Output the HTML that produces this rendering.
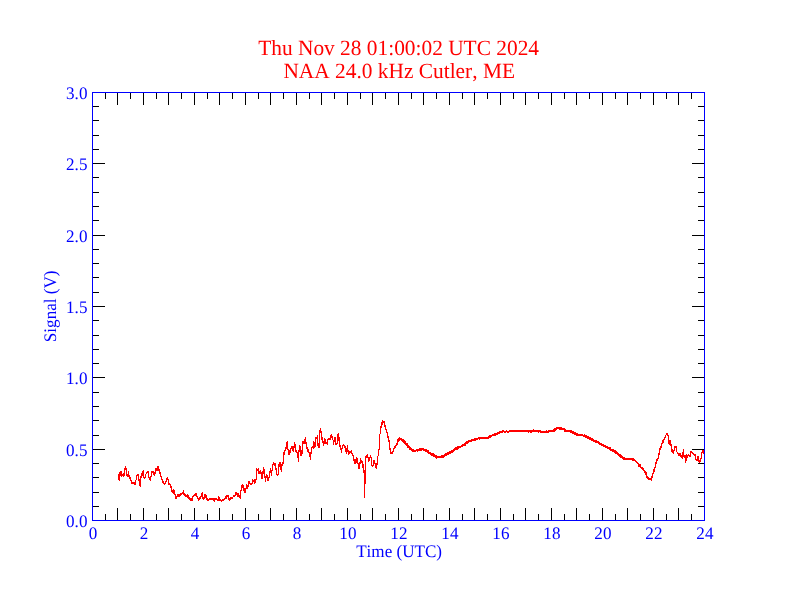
<!DOCTYPE html>
<html lang="en"><head><meta charset="utf-8"><title>NAA 24.0 kHz Cutler, ME</title>
<style>html,body{margin:0;padding:0;background:#fff;overflow:hidden}svg{display:block}text{font-family:"Liberation Serif","Times New Roman",serif;font-kerning:none;text-rendering:geometricPrecision}</style></head><body>
<svg width="792" height="612" viewBox="0 0 792 612">
<rect width="792" height="612" fill="#fff"/>
<g fill="#000" shape-rendering="crispEdges">
<rect x="105" y="514" width="1" height="6"/><rect x="105" y="93" width="1" height="6"/>
<rect x="117" y="508" width="1" height="12"/><rect x="117" y="93" width="1" height="12"/>
<rect x="130" y="514" width="1" height="6"/><rect x="130" y="93" width="1" height="6"/>
<rect x="143" y="508" width="1" height="12"/><rect x="143" y="93" width="1" height="12"/>
<rect x="156" y="514" width="1" height="6"/><rect x="156" y="93" width="1" height="6"/>
<rect x="168" y="508" width="1" height="12"/><rect x="168" y="93" width="1" height="12"/>
<rect x="181" y="514" width="1" height="6"/><rect x="181" y="93" width="1" height="6"/>
<rect x="194" y="508" width="1" height="12"/><rect x="194" y="93" width="1" height="12"/>
<rect x="207" y="514" width="1" height="6"/><rect x="207" y="93" width="1" height="6"/>
<rect x="219" y="508" width="1" height="12"/><rect x="219" y="93" width="1" height="12"/>
<rect x="232" y="514" width="1" height="6"/><rect x="232" y="93" width="1" height="6"/>
<rect x="245" y="508" width="1" height="12"/><rect x="245" y="93" width="1" height="12"/>
<rect x="258" y="514" width="1" height="6"/><rect x="258" y="93" width="1" height="6"/>
<rect x="270" y="508" width="1" height="12"/><rect x="270" y="93" width="1" height="12"/>
<rect x="283" y="514" width="1" height="6"/><rect x="283" y="93" width="1" height="6"/>
<rect x="296" y="508" width="1" height="12"/><rect x="296" y="93" width="1" height="12"/>
<rect x="309" y="514" width="1" height="6"/><rect x="309" y="93" width="1" height="6"/>
<rect x="321" y="508" width="1" height="12"/><rect x="321" y="93" width="1" height="12"/>
<rect x="334" y="514" width="1" height="6"/><rect x="334" y="93" width="1" height="6"/>
<rect x="347" y="508" width="1" height="12"/><rect x="347" y="93" width="1" height="12"/>
<rect x="360" y="514" width="1" height="6"/><rect x="360" y="93" width="1" height="6"/>
<rect x="372" y="508" width="1" height="12"/><rect x="372" y="93" width="1" height="12"/>
<rect x="385" y="514" width="1" height="6"/><rect x="385" y="93" width="1" height="6"/>
<rect x="398" y="508" width="1" height="12"/><rect x="398" y="93" width="1" height="12"/>
<rect x="411" y="514" width="1" height="6"/><rect x="411" y="93" width="1" height="6"/>
<rect x="423" y="508" width="1" height="12"/><rect x="423" y="93" width="1" height="12"/>
<rect x="436" y="514" width="1" height="6"/><rect x="436" y="93" width="1" height="6"/>
<rect x="449" y="508" width="1" height="12"/><rect x="449" y="93" width="1" height="12"/>
<rect x="462" y="514" width="1" height="6"/><rect x="462" y="93" width="1" height="6"/>
<rect x="474" y="508" width="1" height="12"/><rect x="474" y="93" width="1" height="12"/>
<rect x="487" y="514" width="1" height="6"/><rect x="487" y="93" width="1" height="6"/>
<rect x="500" y="508" width="1" height="12"/><rect x="500" y="93" width="1" height="12"/>
<rect x="513" y="514" width="1" height="6"/><rect x="513" y="93" width="1" height="6"/>
<rect x="525" y="508" width="1" height="12"/><rect x="525" y="93" width="1" height="12"/>
<rect x="538" y="514" width="1" height="6"/><rect x="538" y="93" width="1" height="6"/>
<rect x="551" y="508" width="1" height="12"/><rect x="551" y="93" width="1" height="12"/>
<rect x="564" y="514" width="1" height="6"/><rect x="564" y="93" width="1" height="6"/>
<rect x="576" y="508" width="1" height="12"/><rect x="576" y="93" width="1" height="12"/>
<rect x="589" y="514" width="1" height="6"/><rect x="589" y="93" width="1" height="6"/>
<rect x="602" y="508" width="1" height="12"/><rect x="602" y="93" width="1" height="12"/>
<rect x="615" y="514" width="1" height="6"/><rect x="615" y="93" width="1" height="6"/>
<rect x="627" y="508" width="1" height="12"/><rect x="627" y="93" width="1" height="12"/>
<rect x="640" y="514" width="1" height="6"/><rect x="640" y="93" width="1" height="6"/>
<rect x="653" y="508" width="1" height="12"/><rect x="653" y="93" width="1" height="12"/>
<rect x="666" y="514" width="1" height="6"/><rect x="666" y="93" width="1" height="6"/>
<rect x="678" y="508" width="1" height="12"/><rect x="678" y="93" width="1" height="12"/>
<rect x="691" y="514" width="1" height="6"/><rect x="691" y="93" width="1" height="6"/>
<rect x="93" y="506" width="6" height="1"/><rect x="698" y="506" width="6" height="1"/>
<rect x="93" y="492" width="6" height="1"/><rect x="698" y="492" width="6" height="1"/>
<rect x="93" y="477" width="6" height="1"/><rect x="698" y="477" width="6" height="1"/>
<rect x="93" y="463" width="6" height="1"/><rect x="698" y="463" width="6" height="1"/>
<rect x="93" y="449" width="12" height="1"/><rect x="692" y="449" width="12" height="1"/>
<rect x="93" y="435" width="6" height="1"/><rect x="698" y="435" width="6" height="1"/>
<rect x="93" y="420" width="6" height="1"/><rect x="698" y="420" width="6" height="1"/>
<rect x="93" y="406" width="6" height="1"/><rect x="698" y="406" width="6" height="1"/>
<rect x="93" y="392" width="6" height="1"/><rect x="698" y="392" width="6" height="1"/>
<rect x="93" y="377" width="12" height="1"/><rect x="692" y="377" width="12" height="1"/>
<rect x="93" y="363" width="6" height="1"/><rect x="698" y="363" width="6" height="1"/>
<rect x="93" y="349" width="6" height="1"/><rect x="698" y="349" width="6" height="1"/>
<rect x="93" y="335" width="6" height="1"/><rect x="698" y="335" width="6" height="1"/>
<rect x="93" y="320" width="6" height="1"/><rect x="698" y="320" width="6" height="1"/>
<rect x="93" y="306" width="12" height="1"/><rect x="692" y="306" width="12" height="1"/>
<rect x="93" y="292" width="6" height="1"/><rect x="698" y="292" width="6" height="1"/>
<rect x="93" y="277" width="6" height="1"/><rect x="698" y="277" width="6" height="1"/>
<rect x="93" y="263" width="6" height="1"/><rect x="698" y="263" width="6" height="1"/>
<rect x="93" y="249" width="6" height="1"/><rect x="698" y="249" width="6" height="1"/>
<rect x="93" y="235" width="12" height="1"/><rect x="692" y="235" width="12" height="1"/>
<rect x="93" y="220" width="6" height="1"/><rect x="698" y="220" width="6" height="1"/>
<rect x="93" y="206" width="6" height="1"/><rect x="698" y="206" width="6" height="1"/>
<rect x="93" y="192" width="6" height="1"/><rect x="698" y="192" width="6" height="1"/>
<rect x="93" y="177" width="6" height="1"/><rect x="698" y="177" width="6" height="1"/>
<rect x="93" y="163" width="12" height="1"/><rect x="692" y="163" width="12" height="1"/>
<rect x="93" y="149" width="6" height="1"/><rect x="698" y="149" width="6" height="1"/>
<rect x="93" y="135" width="6" height="1"/><rect x="698" y="135" width="6" height="1"/>
<rect x="93" y="120" width="6" height="1"/><rect x="698" y="120" width="6" height="1"/>
<rect x="93" y="106" width="6" height="1"/><rect x="698" y="106" width="6" height="1"/>
</g>
<path d="M118.5 474V480M119.5 472V481M120.5 471V476M121.5 471V477M122.5 474V476M123.5 473V477M124.5 468V476M125.5 466V470M126.5 468V476M127.5 474V477M128.5 471V477M129.5 475V479M130.5 477V481M131.5 480V484M132.5 482V484M133.5 482V484M134.5 482V485M135.5 480V485M136.5 475V480M137.5 474V476M138.5 474V481M139.5 479V486M140.5 476V487M141.5 473V478M142.5 471V476M143.5 470V478M144.5 477V479M145.5 474V478M146.5 472V474M147.5 471V473M148.5 471V478M149.5 477V480M150.5 476V481M151.5 471V477M152.5 471V473M153.5 471V475M154.5 472V476M155.5 468V474M156.5 468V471M157.5 466V471M158.5 466V471M159.5 469V474M160.5 472V477M161.5 476V480M162.5 479V483M163.5 481V484M164.5 483V485M165.5 481V484M166.5 478V482M167.5 477V480M168.5 479V485M169.5 483V485M170.5 484V488M171.5 486V492M172.5 490V493M173.5 489V494M174.5 490V495M175.5 494V499M176.5 496V499M177.5 494V497M178.5 494V497M179.5 494V497M180.5 493V496M181.5 493V495M182.5 492V494M183.5 490V495M184.5 493V496M185.5 494V497M186.5 495V497M187.5 494V498M188.5 495V499M189.5 497V500M190.5 498V501M191.5 498V501M192.5 496V501M193.5 495V497M194.5 494V496M195.5 493V496M196.5 493V497M197.5 496V499M198.5 498V501M199.5 497V500M200.5 496V499M201.5 493V497M202.5 492V499M203.5 497V500M204.5 494V499M205.5 494V498M206.5 495V500M207.5 498V501M208.5 499V501M209.5 498V500M210.5 498V500M211.5 498V500M212.5 498V500M213.5 498V501M214.5 498V502M215.5 498V500M216.5 498V500M217.5 499V501M218.5 496V501M219.5 497V501M220.5 499V501M221.5 500V502M222.5 499V501M223.5 499V501M224.5 498V500M225.5 496V499M226.5 495V499M227.5 495V497M228.5 495V500M229.5 498V501M230.5 497V500M231.5 497V499M232.5 497V499M233.5 495V497M234.5 495V497M235.5 492V496M236.5 492V495M237.5 493V497M238.5 493V497M239.5 495V498M240.5 490V499M241.5 485V491M242.5 484V488M243.5 485V491M244.5 488V493M245.5 488V493M246.5 484V489M247.5 485V489M248.5 481V487M249.5 481V484M250.5 483V485M251.5 483V485M252.5 479V484M253.5 480V482M254.5 479V484M255.5 479V483M256.5 468V480M257.5 469V471M258.5 468V474M259.5 471V474M260.5 470V474M261.5 472V479M262.5 471V479M263.5 467V474M264.5 469V478M265.5 476V482M266.5 474V478M267.5 475V481M268.5 477V481M269.5 471V478M270.5 468V473M271.5 470V476M272.5 464V471M273.5 462V465M274.5 463V466M275.5 463V470M276.5 468V475M277.5 474V476M278.5 464V475M279.5 462V467M280.5 462V470M281.5 464V472M282.5 462V466M283.5 452V464M284.5 450V455M285.5 447V451M286.5 442V449M287.5 441V450M288.5 449V455M289.5 450V455M290.5 448V453M291.5 446V449M292.5 446V451M293.5 446V452M294.5 442V448M295.5 444V452M296.5 450V453M297.5 452V458M298.5 450V462M299.5 445V452M300.5 446V456M301.5 450V456M302.5 441V454M303.5 441V444M304.5 439V444M305.5 437V444M306.5 442V449M307.5 447V452M308.5 449V453M309.5 452V457M310.5 452V460M311.5 447V454M312.5 446V448M313.5 441V449M314.5 442V448M315.5 437V447M316.5 437V439M317.5 435V446M318.5 443V448M319.5 430V448M320.5 428V433M321.5 431V440M322.5 437V443M323.5 441V446M324.5 438V444M325.5 439V444M326.5 442V444M327.5 439V445M328.5 438V440M329.5 438V440M330.5 435V440M331.5 434V438M332.5 436V440M333.5 440V445M334.5 437V442M335.5 437V445M336.5 443V445M337.5 434V444M338.5 433V441M339.5 437V447M340.5 445V450M341.5 448V453M342.5 445V449M343.5 444V446M344.5 445V448M345.5 446V452M346.5 448V454M347.5 445V452M348.5 450V455M349.5 451V454M350.5 451V453M351.5 450V454M352.5 453V456M353.5 455V461M354.5 459V464M355.5 459V464M356.5 457V463M357.5 458V464M358.5 463V469M359.5 462V469M360.5 458V464M361.5 460V463M362.5 461V468M363.5 464V473M364.5 470V498M365.5 456V484M366.5 455V458M367.5 454V458M368.5 457V462M369.5 457V461M370.5 455V458M371.5 457V466M372.5 465V467M373.5 460V466M374.5 460V464M375.5 463V468M376.5 463V469M377.5 456V465M378.5 449V456M379.5 434V450M380.5 426V434M381.5 422V428M382.5 420V425M383.5 421V423M384.5 421V427M385.5 425V430M386.5 429V433M387.5 432V438M388.5 436V442M389.5 440V450M390.5 448V454M391.5 452V454M392.5 451V454M393.5 448V452M394.5 446V449M395.5 445V448M396.5 443V446M397.5 439V445M398.5 438V442M399.5 437V441M400.5 438V440M401.5 438V441M402.5 439V442M403.5 439V443M404.5 440V444M405.5 441V445M406.5 443V446M407.5 443V448M408.5 445V448M409.5 446V450M410.5 447V450M411.5 448V451M412.5 449V452M413.5 449V452M414.5 450V452M415.5 450V452M416.5 449V451M417.5 449V452M418.5 449V451M419.5 448V451M420.5 448V451M421.5 448V451M422.5 448V450M423.5 448V451M424.5 449V451M425.5 449V452M426.5 449V452M427.5 450V453M428.5 450V454M429.5 452V454M430.5 452V455M431.5 453V456M432.5 453V456M433.5 453V457M434.5 454V457M435.5 455V458M436.5 455V459M437.5 456V458M438.5 456V458M439.5 456V458M440.5 456V458M441.5 455V458M442.5 455V458M443.5 455V458M444.5 454V457M445.5 453V456M446.5 453V456M447.5 452V455M448.5 452V455M449.5 451V454M450.5 451V454M451.5 450V453M452.5 450V453M453.5 449V452M454.5 448V451M455.5 447V450M456.5 447V450M457.5 446V450M458.5 446V449M459.5 446V448M460.5 446V448M461.5 445V447M462.5 444V447M463.5 444V446M464.5 443V446M465.5 442V446M466.5 441V444M467.5 441V444M468.5 440V443M469.5 440V442M470.5 440V442M471.5 439V442M472.5 439V441M473.5 439V441M474.5 438V441M475.5 438V441M476.5 438V440M477.5 438V440M478.5 437V439M479.5 437V440M480.5 437V439M481.5 437V439M482.5 437V439M483.5 437V439M484.5 437V439M485.5 437V439M486.5 437V439M487.5 437V439M488.5 436V439M489.5 435V438M490.5 435V438M491.5 435V437M492.5 434V436M493.5 434V436M494.5 433V436M495.5 433V436M496.5 433V435M497.5 432V435M498.5 432V434M499.5 431V434M500.5 431V433M501.5 431V433M502.5 430V433M503.5 430V432M504.5 431V433M505.5 431V433M506.5 430V432M507.5 431V433M508.5 431V433M509.5 430V432M510.5 430V432M511.5 430V432M512.5 430V432M513.5 430V432M514.5 430V432M515.5 430V432M516.5 430V432M517.5 430V432M518.5 430V432M519.5 430V432M520.5 430V432M521.5 430V432M522.5 430V432M523.5 430V432M524.5 430V432M525.5 430V432M526.5 430V432M527.5 430V432M528.5 430V433M529.5 430V432M530.5 430V433M531.5 430V433M532.5 430V432M533.5 429V432M534.5 430V432M535.5 430V432M536.5 430V432M537.5 430V432M538.5 430V433M539.5 430V432M540.5 430V433M541.5 431V433M542.5 431V433M543.5 431V433M544.5 431V433M545.5 431V433M546.5 430V433M547.5 431V433M548.5 430V433M549.5 430V432M550.5 430V432M551.5 430V432M552.5 430V432M553.5 429V432M554.5 428V432M555.5 428V431M556.5 427V430M557.5 427V429M558.5 427V429M559.5 427V430M560.5 427V430M561.5 427V430M562.5 428V430M563.5 428V430M564.5 428V432M565.5 429V432M566.5 430V432M567.5 430V432M568.5 430V432M569.5 430V432M570.5 430V433M571.5 430V433M572.5 431V434M573.5 431V434M574.5 432V435M575.5 432V435M576.5 433V436M577.5 433V436M578.5 434V436M579.5 434V436M580.5 434V436M581.5 434V436M582.5 434V436M583.5 435V437M584.5 434V437M585.5 435V438M586.5 435V438M587.5 436V439M588.5 436V439M589.5 437V440M590.5 437V440M591.5 438V441M592.5 438V441M593.5 439V442M594.5 440V442M595.5 440V443M596.5 440V443M597.5 441V443M598.5 441V444M599.5 442V445M600.5 443V445M601.5 443V446M602.5 444V446M603.5 444V447M604.5 445V447M605.5 445V448M606.5 446V448M607.5 446V449M608.5 447V449M609.5 447V450M610.5 447V451M611.5 449V451M612.5 449V452M613.5 449V452M614.5 450V453M615.5 450V454M616.5 451V454M617.5 452V455M618.5 453V456M619.5 454V457M620.5 454V458M621.5 455V458M622.5 456V459M623.5 457V460M624.5 457V460M625.5 458V460M626.5 458V460M627.5 458V460M628.5 458V460M629.5 458V460M630.5 458V460M631.5 458V460M632.5 458V461M633.5 458V461M634.5 459V461M635.5 460V462M636.5 461V463M637.5 462V464M638.5 463V467M639.5 464V467M640.5 464V468M641.5 467V469M642.5 467V470M643.5 468V471M644.5 470V473M645.5 471V475M646.5 472V478M647.5 476V479M648.5 477V480M649.5 478V480M650.5 478V480M651.5 476V481M652.5 473V478M653.5 469V474M654.5 467V472M655.5 462V468M656.5 459V464M657.5 458V461M658.5 453V459M659.5 448V455M660.5 446V450M661.5 443V448M662.5 440V444M663.5 439V443M664.5 437V440M665.5 435V438M666.5 433V435M667.5 433V436M668.5 435V444M669.5 440V445M670.5 440V446M671.5 444V452M672.5 449V453M673.5 450V454M674.5 446V451M675.5 446V448M676.5 446V452M677.5 452V454M678.5 453V456M679.5 453V456M680.5 453V457M681.5 455V458M682.5 452V459M683.5 449V457M684.5 455V458M685.5 455V463M686.5 454V461M687.5 455V458M688.5 454V456M689.5 455V457M690.5 451V457M691.5 451V453M692.5 452V454M693.5 453V455M694.5 454V456M695.5 454V460M696.5 459V461M697.5 456V461M698.5 456V462M699.5 460V463M700.5 458V462M701.5 452V459M702.5 450V453M703.5 450V454" fill="none" stroke="#f00" stroke-width="1" shape-rendering="crispEdges"/>
<g fill="#00f" shape-rendering="crispEdges">
<rect x="92" y="92" width="613" height="1"/><rect x="92" y="520" width="613" height="1"/>
<rect x="92" y="92" width="1" height="429"/><rect x="704" y="92" width="1" height="429"/>
</g>
<g fill="#00f" font-size="17.1px">
<text transform="translate(92.90,538.70) scale(1,1.03)" text-anchor="middle">0</text>
<text transform="translate(143.90,538.70) scale(1,1.03)" text-anchor="middle">2</text>
<text transform="translate(194.90,538.70) scale(1,1.03)" text-anchor="middle">4</text>
<text transform="translate(245.90,538.70) scale(1,1.03)" text-anchor="middle">6</text>
<text transform="translate(296.90,538.70) scale(1,1.03)" text-anchor="middle">8</text>
<text transform="translate(347.90,538.70) scale(1,1.03)" text-anchor="middle">10</text>
<text transform="translate(398.90,538.70) scale(1,1.03)" text-anchor="middle">12</text>
<text transform="translate(449.90,538.70) scale(1,1.03)" text-anchor="middle">14</text>
<text transform="translate(500.90,538.70) scale(1,1.03)" text-anchor="middle">16</text>
<text transform="translate(551.90,538.70) scale(1,1.03)" text-anchor="middle">18</text>
<text transform="translate(602.90,538.70) scale(1,1.03)" text-anchor="middle">20</text>
<text transform="translate(653.90,538.70) scale(1,1.03)" text-anchor="middle">22</text>
<text transform="translate(704.90,538.70) scale(1,1.03)" text-anchor="middle">24</text>
<text transform="translate(399.10,556.80) scale(1,1.03)" text-anchor="middle">Time (UTC)</text>
<text transform="translate(56.10,306.30) rotate(-90) scale(1,1.03)" text-anchor="middle">Signal (V)</text>
<text transform="translate(87.45,526.80) scale(1,1.03)" text-anchor="end">0.0</text>
<text transform="translate(87.45,455.80) scale(1,1.03)" text-anchor="end">0.5</text>
<text transform="translate(87.45,383.80) scale(1,1.03)" text-anchor="end">1.0</text>
<text transform="translate(87.45,312.80) scale(1,1.03)" text-anchor="end">1.5</text>
<text transform="translate(87.45,241.80) scale(1,1.03)" text-anchor="end">2.0</text>
<text transform="translate(87.45,169.80) scale(1,1.03)" text-anchor="end">2.5</text>
<text transform="translate(87.45,98.80) scale(1,1.03)" text-anchor="end">3.0</text>
</g>
<g fill="#f00" font-size="21.38px">
<text transform="translate(398.60,54.90) scale(1,1.015)" text-anchor="middle">Thu Nov 28 01:00:02 UTC 2024</text>
<text transform="translate(399.20,78.00) scale(1,1.015)" text-anchor="middle">NAA 24.0 kHz Cutler, ME</text>
</g>
</svg></body></html>
